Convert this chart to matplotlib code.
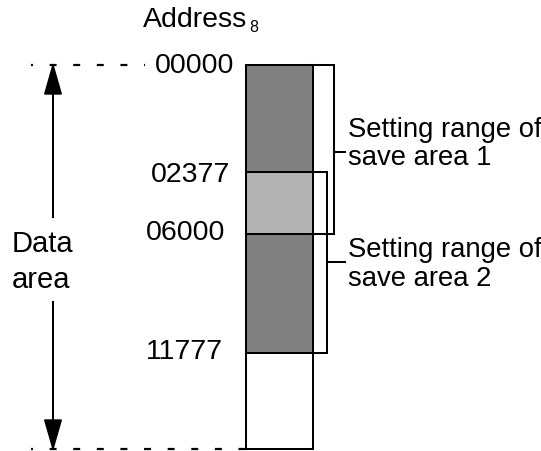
import matplotlib
matplotlib.use("Agg")
import matplotlib.pyplot as plt
from matplotlib.patches import Rectangle, Polygon

plt.rcParams['font.family'] = ['Liberation Sans', 'DejaVu Sans']
plt.rcParams['lines.scale_dashes'] = False

# Data: address boundaries (octal) and segment fills
addresses = ["00000", "02377", "06000", "11777"]
segment_kinds = ["save1", "overlap", "save2", "free"]
range_labels = [["Setting range of", "save area 1"], ["Setting range of", "save area 2"]]
range_bounds = [("00000", "06000"), ("02377", "11777")]
data_label = ["Data", "area"]
header = "Address"
header_sub = "8"

# Layout (schematic pixel positions)
W, H = 541, 452
bound_y = {"00000": 66, "02377": 173, "06000": 235, "11777": 354, "end": 450}
box_x0, box_x1 = 246, 313
fills = {"save1": "#808080", "overlap": "#b3b3b3", "save2": "#808080", "free": "white"}
LW = 1.45

fig = plt.figure(figsize=(W / 100, H / 100), dpi=100)
ax = fig.add_axes([0, 0, 1, 1])
ax.set_xlim(0, W)
ax.set_ylim(H, 0)
ax.axis("off")

keys = addresses + ["end"]
for i, kind in enumerate(segment_kinds):
    y0 = bound_y[keys[i]]
    y1 = bound_y[keys[i + 1]]
    ax.add_patch(Rectangle((box_x0, y0), box_x1 - box_x0, y1 - y0,
                           facecolor=fills[kind], edgecolor="black", lw=LW, zorder=2))

label_pos = {"00000": (234, 73), "02377": (230, 182), "06000": (225, 240), "11777": (223, 359)}
for a in addresses:
    x, y = label_pos[a]
    ax.text(x, y, a, ha="right", va="baseline", fontsize=20.5)

t_head = ax.text(143, 27, header, ha="left", va="baseline", fontsize=20.5)
fig.canvas.draw()
bb = t_head.get_window_extent(renderer=fig.canvas.get_renderer())
x_end = ax.transData.inverted().transform((bb.x1, bb.y0))[0]
ax.text(x_end + 2, 32, header_sub, ha="left", va="baseline", fontsize=11.5)

# brackets
bracket_x = [334, 327]
conn_y = [153, 263]
baselines = [(137, 165), (257, 286)]
text_x = 348
for lab, (a0, a1), bx, cy, bl in zip(range_labels, range_bounds, bracket_x, conn_y, baselines):
    y0, y1 = bound_y[a0], bound_y[a1]
    ax.plot([box_x1, bx, bx, box_x1], [y0, y0, y1, y1], color="black", lw=LW, zorder=1,
            solid_joinstyle="miter")
    ax.plot([bx, 345], [cy, cy], color="black", lw=LW)
    for line, yb in zip(lab, bl):
        ax.text(text_x, yb, line, ha="left", va="baseline", fontsize=19.8)

# dashed extension lines
dash = (3.6, (5.0, 12.0))
ax.plot([31, 145], [bound_y["00000"]] * 2, color="black", lw=1.6, linestyle=dash)
ax.plot([31, box_x0], [bound_y["end"]] * 2, color="black", lw=1.6, linestyle=dash)

# double arrow
ax_x = 53
top, bot = bound_y["00000"], bound_y["end"]
ah, aw = 29, 8.3
ax.add_patch(Polygon([[ax_x, top], [ax_x - aw, top + ah], [ax_x + aw, top + ah]], closed=True, color="black"))
ax.add_patch(Polygon([[ax_x, bot], [ax_x - aw, bot - ah], [ax_x + aw, bot - ah]], closed=True, color="black"))
ax.plot([ax_x, ax_x], [top + ah, 218], color="black", lw=LW)
ax.plot([ax_x, ax_x], [303, bot - ah], color="black", lw=LW)
ax.text(12, 252, data_label[0], ha="left", va="baseline", fontsize=21)
ax.text(12, 288, data_label[1], ha="left", va="baseline", fontsize=21)

fig.savefig("out.png", dpi=100)
